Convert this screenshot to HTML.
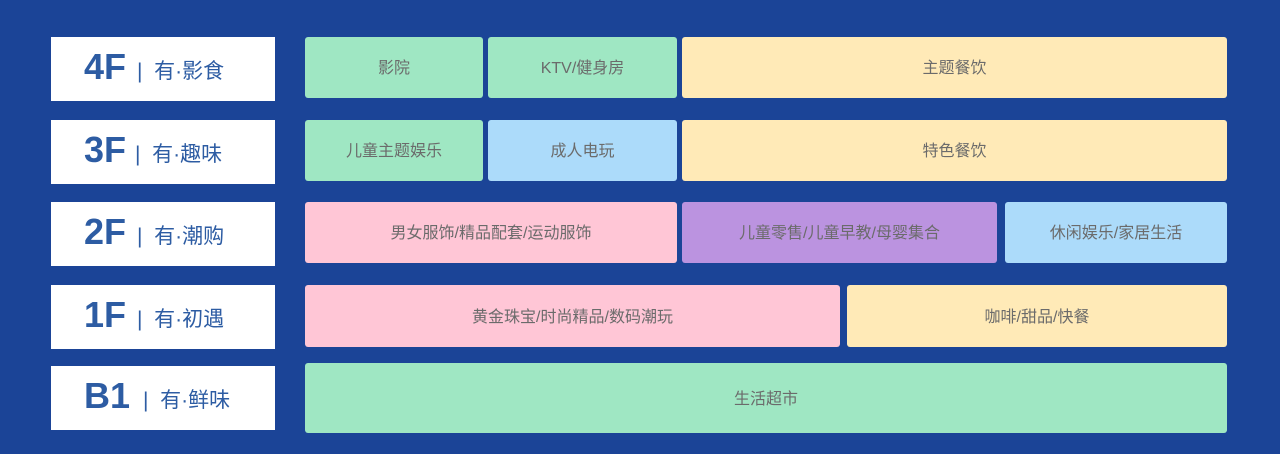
<!DOCTYPE html>
<html><head><meta charset="utf-8"><style>
html,body{margin:0;padding:0}
body{width:1280px;height:454px;background:#1b4497;position:relative;overflow:hidden;font-family:"Liberation Sans","Noto Sans CJK SC",sans-serif}
.l{position:absolute;left:51px;width:224px;height:64px;background:#fff;color:#2d5ca3}
.l b{position:absolute;left:33px;top:9px;font-size:36px;font-weight:bold;line-height:42px}
.l span{position:absolute;top:20px;font-size:21px;line-height:30px}
.c{position:absolute;display:flex;align-items:center;justify-content:center;font-size:16px;color:#6b6b6b;border-radius:3px;box-sizing:border-box;padding-bottom:3px}
.g{background:#9fe7c3}.y{background:#ffeab7}.bl{background:#acdbfa}.p{background:#ffc6d6}.pu{background:#bb93e0}
</style></head><body>
<div class="l" style="top:37px"><b>4F</b><span style="left:86px">|&nbsp; 有·影食</span></div>
<div class="l" style="top:120px"><b>3F</b><span style="left:84px">|&nbsp; 有·趣味</span></div>
<div class="l" style="top:202px"><b>2F</b><span style="left:86px">|&nbsp; 有·潮购</span></div>
<div class="l" style="top:285px"><b>1F</b><span style="left:86px">|&nbsp; 有·初遇</span></div>
<div class="l" style="top:366px"><b>B1</b><span style="left:92px">|&nbsp; 有·鲜味</span></div>

<div class="c g" style="left:305px;top:37px;width:178px;height:61px">影院</div>
<div class="c g" style="left:488px;top:37px;width:189px;height:61px">KTV/健身房</div>
<div class="c y" style="left:682px;top:37px;width:545px;height:61px">主题餐饮</div>

<div class="c g" style="left:305px;top:120px;width:178px;height:61px">儿童主题娱乐</div>
<div class="c bl" style="left:488px;top:120px;width:189px;height:61px">成人电玩</div>
<div class="c y" style="left:682px;top:120px;width:545px;height:61px">特色餐饮</div>

<div class="c p" style="left:305px;top:202px;width:372px;height:61px">男女服饰/精品配套/运动服饰</div>
<div class="c pu" style="left:682px;top:202px;width:315px;height:61px">儿童零售/儿童早教/母婴集合</div>
<div class="c bl" style="left:1005px;top:202px;width:222px;height:61px">休闲娱乐/家居生活</div>

<div class="c p" style="left:305px;top:285px;width:535px;height:62px">黄金珠宝/时尚精品/数码潮玩</div>
<div class="c y" style="left:847px;top:285px;width:380px;height:62px">咖啡/甜品/快餐</div>

<div class="c g" style="left:305px;top:363px;width:922px;height:70px">生活超市</div>
</body></html>
